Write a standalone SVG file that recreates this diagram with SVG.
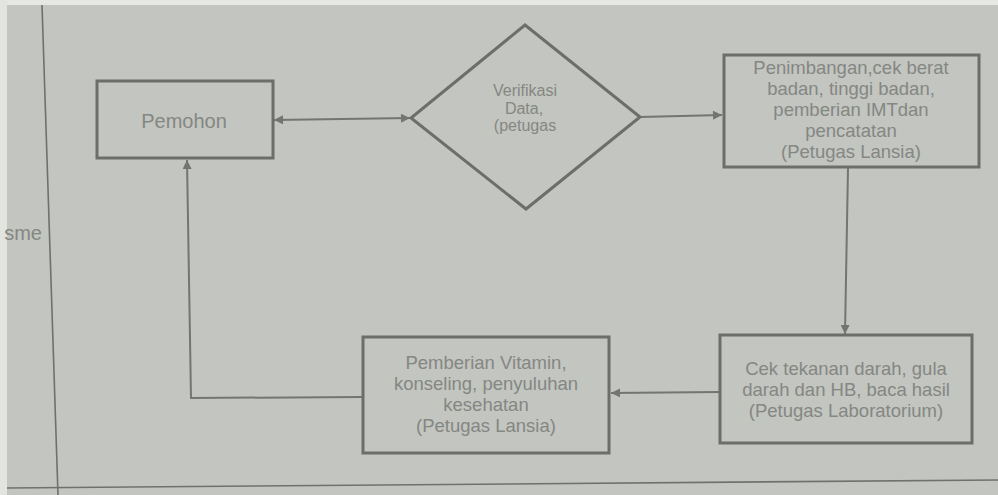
<svg xmlns="http://www.w3.org/2000/svg" width="998" height="495" viewBox="0 0 998 495">
<defs>
<style>
.box{fill:none;stroke:#6c6e6a;stroke-width:3}
.conn{fill:none;stroke:#737571;stroke-width:2}
.lane{fill:none;stroke:#6f716d;stroke-width:1.6}
text{font-family:"Liberation Sans",Arial,sans-serif;fill:#858783;text-anchor:middle}
.t18{font-size:18.5px}
.td{font-size:16px}
</style>
<marker id="arr" viewBox="0 0 10 10" refX="10" refY="5" markerWidth="10" markerHeight="9" markerUnits="userSpaceOnUse" orient="auto-start-reverse">
<path d="M0 0 L10 5 L0 10 Z" fill="#737571"/>
</marker>
</defs>
<rect x="0" y="0" width="998" height="495" fill="#c2c5c0"/>
<rect x="0" y="0" width="998" height="5" fill="#e6e8e4"/>
<rect x="0" y="0" width="7" height="495" fill="#e2e4e0"/>
<g id="lanes">
<line class="lane" x1="42" y1="5" x2="58" y2="495"/>
<line class="lane" x1="7" y1="488" x2="998" y2="480"/>
<text x="42" y="240" style="font-size:20px;text-anchor:end">sme</text>
</g>
<g id="connectors">
<line class="conn" x1="274" y1="120" x2="410" y2="118" marker-start="url(#arr)" marker-end="url(#arr)"/>
<line class="conn" x1="640" y1="117" x2="722" y2="115" marker-end="url(#arr)"/>
<line class="conn" x1="848" y1="168" x2="845" y2="334" marker-end="url(#arr)"/>
<line class="conn" x1="719" y1="392" x2="611" y2="393" marker-end="url(#arr)"/>
<polyline class="conn" points="363,397 191,398 187,160" marker-end="url(#arr)"/>
</g>
<g id="pemohon">
<rect class="box" x="97" y="81" width="176" height="77"/>
<text x="184" y="128" style="font-size:20px">Pemohon</text>
</g>
<g id="verifikasi">
<polygon class="box" points="525,25 640,117 526,209 411,118"/>
<text class="td" x="525" y="96">Verifikasi</text>
<text class="td" x="524" y="114">Data,</text>
<text class="td" x="525" y="131">(petugas</text>
</g>
<g id="penimbangan">
<rect class="box" x="724" y="55" width="255" height="112"/>
<text class="t18" x="851" y="74">Penimbangan,cek berat</text>
<text class="t18" x="851" y="95">badan, tinggi badan,</text>
<text class="t18" x="851" y="116">pemberian IMTdan</text>
<text class="t18" x="851" y="137">pencatatan</text>
<text class="t18" x="851" y="158">(Petugas Lansia)</text>
</g>
<g id="cek-tekanan">
<rect class="box" x="720" y="335" width="252" height="108"/>
<text class="t18" x="846" y="375">Cek tekanan darah, gula</text>
<text class="t18" x="846" y="396">darah dan HB, baca hasil</text>
<text class="t18" x="846" y="417">(Petugas Laboratorium)</text>
</g>
<g id="pemberian-vitamin">
<rect class="box" x="363" y="337" width="246" height="116"/>
<text class="t18" x="486" y="369">Pemberian Vitamin,</text>
<text class="t18" x="486" y="390">konseling, penyuluhan</text>
<text class="t18" x="486" y="411">kesehatan</text>
<text class="t18" x="486" y="432">(Petugas Lansia)</text>
</g>
</svg>
